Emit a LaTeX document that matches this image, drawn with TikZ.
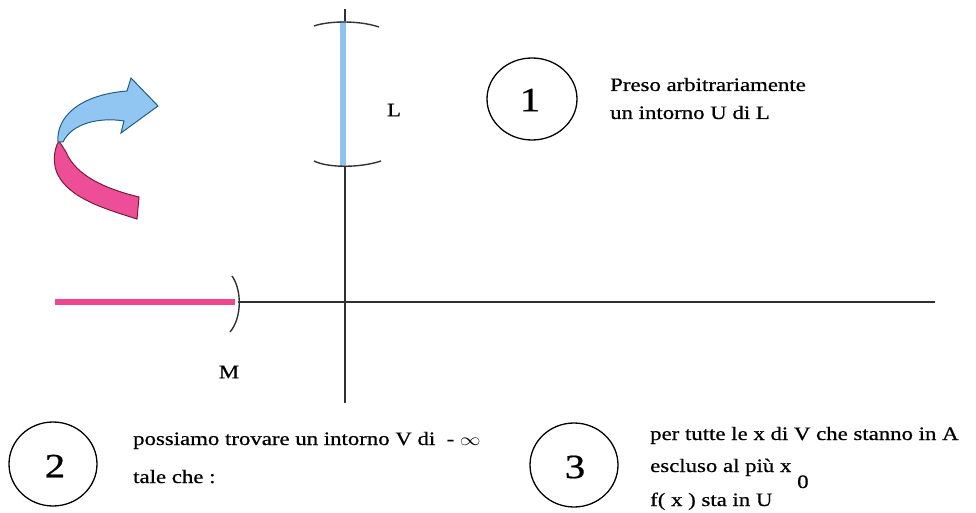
\documentclass[tikz,border=0pt]{standalone}
\usepackage{fontspec}
\setmainfont{Liberation Serif}[FakeBold=0.6]
\usepackage{graphicx}
\definecolor{axisgray}{HTML}{303030}
\definecolor{intblue}{HTML}{8EC3F0}
\definecolor{intpink}{HTML}{F0468C}
\definecolor{arrblue}{HTML}{92C6F2}
\definecolor{arrblueedge}{HTML}{1F5F86}
\definecolor{arrpink}{HTML}{EE4E98}
\definecolor{arrpinkedge}{HTML}{7A1C35}
\newcommand{\wide}[1]{\scalebox{1.2}[1]{#1}}
\tikzset{
  axisline/.style={draw=axisgray, line width=1.3pt},
  bracket/.style={draw=black!80, line width=1.4pt},
  stepring/.style={draw=black, line width=1.3pt},
  txt/.style={anchor=base west, inner sep=0pt, font=\fontsize{19}{22}\selectfont},
  lbl/.style={anchor=center, inner sep=0pt, font=\fontsize{19}{20}\selectfont},
  digit/.style={anchor=center, inner sep=0pt, font=\fontsize{34}{36}\selectfont}
}
\begin{document}
\begin{tikzpicture}[x=1pt,y=-1pt]
\useasboundingbox (0,0) rectangle (976,513);

% axes
\coordinate (yTop) at (345,9);
\coordinate (yBot) at (345,403);
\coordinate (xLeft) at (238,302);
\coordinate (xRight) at (935,302);
\draw[axisline] (yTop) -- (yBot);
\draw[axisline] (xLeft) -- (xRight);

% neighbourhood of L on the y axis
\coordinate (Ltop) at (343,21);
\coordinate (Lbot) at (343,167);
\draw[intblue, line width=6.5pt] (Ltop) -- (Lbot);
\draw[bracket] (314,26) .. controls (328,21) and (358,20) .. (379,27);
\draw[bracket] (314,161) .. controls (328,168) and (360,168) .. (381,161);
\node[lbl] (L) at (394,110) {\wide{L}};

% neighbourhood of -infinity on the x axis
\coordinate (Mleft) at (55,302);
\coordinate (Mright) at (235,302);
\draw[intpink, line width=6pt] (Mleft) -- (Mright);
\draw[bracket] (232,276) .. controls (242,290) and (242,318) .. (230,332);
\node[lbl] (M) at (229,372) {\wide{M}};

% curved arrow: pink tail
\filldraw[fill=arrpink, draw=arrpinkedge, line width=1pt]
  (59,141) .. controls (53,150) and (53,166) .. (58,175)
  .. controls (70,198) and (102,208) .. (137,219)
  -- (139,197)
  .. controls (106,189) and (76,176) .. (66,152)
  -- cycle;
% curved arrow: blue head
\filldraw[fill=arrblue, draw=arrblueedge, line width=1pt]
  (58,142) .. controls (56,118) and (78,95) .. (127,91)
  -- (131,78) -- (158,106) -- (121,133) -- (124,121)
  .. controls (100,117) and (72,123) .. (63,142)
  -- cycle;

% step 1
\draw[stepring] (532,99) ellipse (45pt and 41pt);
\node[digit] (n1) at (530,100) {\wide{1}};
\node[txt] (t1a) at (610,91) {\wide{Preso arbitrariamente}};
\node[txt] (t1b) at (610,119) {\wide{un intorno U di L}};

% step 2
\draw[stepring] (53,464) ellipse (44pt and 42pt);
\node[digit] (n2) at (55,466) {\wide{2}};
\node[txt] (t2a) at (133,445) {\wide{possiamo trovare un intorno V di \ - $\infty$}};
\node[txt] (t2b) at (133,483) {\wide{tale che :}};

% step 3
\draw[stepring] (574,465) ellipse (44pt and 42pt);
\node[digit] (n3) at (575,467) {\wide{3}};
\node[txt] (t3a) at (650,440) {\wide{per tutte le x di V che stanno in A}};
\node[txt] (t3b) at (650,472) {\wide{escluso al più x}};
\node[txt] (t3s) at (797,488) {\wide{0}};
\node[txt] (t3c) at (650,506) {\wide{f( x ) sta in U}};
\end{tikzpicture}
\end{document}
